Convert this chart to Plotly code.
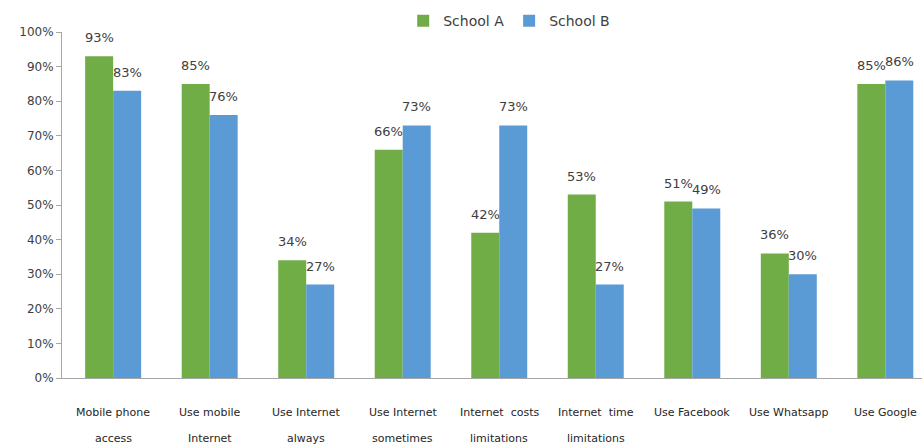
import plotly.graph_objects as go

# Survey categories, each split over two label lines
cat_line1 = ["Mobile phone", "Use mobile", "Use Internet", "Use Internet",
             "Internet  costs", "Internet  time", "Use Facebook", "Use Whatsapp", "Use Google"]
cat_line2 = ["access", "Internet", "always", "sometimes",
             "limitations", "limitations", "", "", ""]

school_a = [93, 85, 34, 66, 42, 53, 51, 36, 85]
school_b = [83, 76, 27, 73, 73, 27, 49, 30, 86]

y_ticks = [0, 10, 20, 30, 40, 50, 60, 70, 80, 90, 100]
y_tick_text = [f"{v}%" for v in y_ticks]

GREEN = "#70AD47"
BLUE = "#5B9BD5"
TEXT = "#404040"
FONT = "DejaVu Sans"
BARGAP = 0.42

x = list(range(len(cat_line1)))

fig = go.Figure()
fig.add_trace(go.Bar(x=x, y=school_a, name="School A", marker=dict(color=GREEN, line=dict(width=0))))
fig.add_trace(go.Bar(x=x, y=school_b, name="School B", marker=dict(color=BLUE, line=dict(width=0))))

# value labels above each bar, centred on the bar within its group
half = (1 - BARGAP) / 4
annotations = []
for i in x:
    for val, off in ((school_a[i], -half), (school_b[i], half)):
        annotations.append(dict(
            x=i + off, y=val, xref="x", yref="y", text=f"{val}%",
            showarrow=False, yanchor="bottom", yshift=9,
            font=dict(family=FONT, size=13, color=TEXT)))

# two-line category labels under the axis
for i in x:
    annotations.append(dict(x=i, y=0, xref="x", yref="paper", text=cat_line1[i],
                            showarrow=False, yanchor="middle", yshift=-34,
                            font=dict(family=FONT, size=11, color="#262626")))
    if cat_line2[i]:
        annotations.append(dict(x=i, y=0, xref="x", yref="paper", text=cat_line2[i],
                                showarrow=False, yanchor="middle", yshift=-60,
                                font=dict(family=FONT, size=11, color="#262626")))

fig.update_layout(
    width=922, height=448,
    margin=dict(l=62, r=0, t=32, b=70),
    paper_bgcolor="white", plot_bgcolor="white",
    barmode="group", bargap=BARGAP, bargroupgap=0,
    showlegend=True,
    legend=dict(orientation="h", x=0.52, xanchor="center", y=0.985, yanchor="bottom",
                font=dict(family=FONT, size=14, color=TEXT),
                itemwidth=30, bgcolor="rgba(0,0,0,0)", tracegroupgap=0),
    annotations=annotations,
    xaxis=dict(range=[-0.53, 8.38], showticklabels=False, ticks="",
               showgrid=False, zeroline=False, showline=True,
               linecolor="#a6a6a6", linewidth=1),
    yaxis=dict(range=[0, 100], tickmode="array", tickvals=y_ticks, ticktext=y_tick_text,
               showgrid=False, zeroline=False, showline=True,
               linecolor="#a6a6a6", linewidth=1, ticks="outside", ticklen=5,
               tickcolor="#a6a6a6",
               tickfont=dict(family=FONT, size=12, color=TEXT)),
)

fig.write_html("out.html")
